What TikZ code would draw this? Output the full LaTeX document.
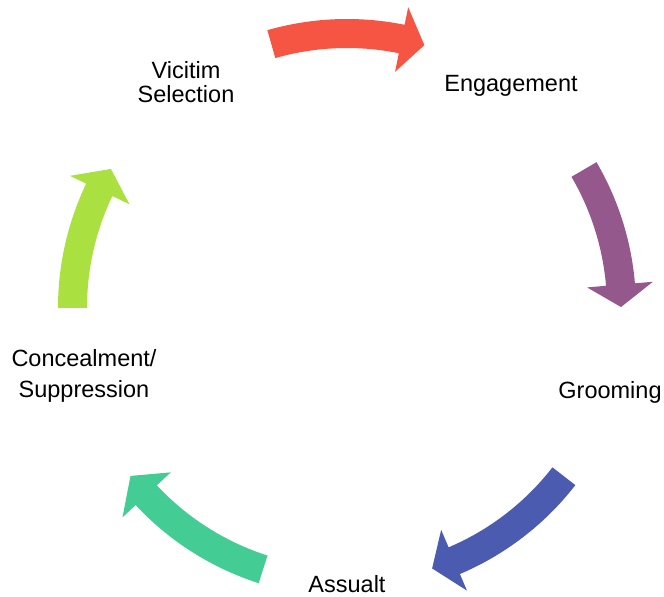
\documentclass[tikz,border=0pt]{standalone}
\usepackage{fontspec}
\setmainfont{Liberation Sans}
\definecolor{cred}{RGB}{245,85,66}
\definecolor{cpurple}{RGB}{148,88,140}
\definecolor{cblue}{RGB}{74,91,176}
\definecolor{cgreen}{RGB}{67,205,148}
\definecolor{clime}{RGB}{170,224,64}
\newcommand{\cyclearrow}[4]{%
  \fill[#1] (#2:289pt) arc[start angle=#2, end angle=#3, radius=289pt]
    -- (#3:307pt) -- (#4:274pt) -- (#3:241pt) -- (#3:260pt)
    arc[start angle=#3, end angle=#2, radius=260pt] -- cycle;}
\begin{document}
\begin{tikzpicture}[x=1pt,y=1pt,
  lbl/.style={font=\fontsize{23.5}{24}\selectfont, text=black, inner sep=0pt, align=center}]
\useasboundingbox (0,0) rectangle (664,597);
\begin{scope}[shift={(347,289)}]
  \cyclearrow{cred}{106}{78.5}{73.6}
  \cyclearrow{cpurple}{30.3}{4.9}{0.2}
  \cyclearrow{cblue}{-37.8}{-67}{-71.9}
  \cyclearrow{cgreen}{-107.8}{-137}{-142.2}
  \cyclearrow{clime}{180}{154.5}{149.5}
\end{scope}
\node[lbl] (sel) at (186,515) {Vicitim\\Selection};
\node[lbl, anchor=base] (eng) at (511,505) {Engagement};
\node[lbl, anchor=base] (groom) at (610,198) {Grooming};
\node[lbl, anchor=base] (ass) at (347,5) {Assualt};
\node[lbl, font=\fontsize{23.5}{31}\selectfont] (conc) at (84,221.5) {Concealment/\\Suppression};
\end{tikzpicture}
\end{document}
